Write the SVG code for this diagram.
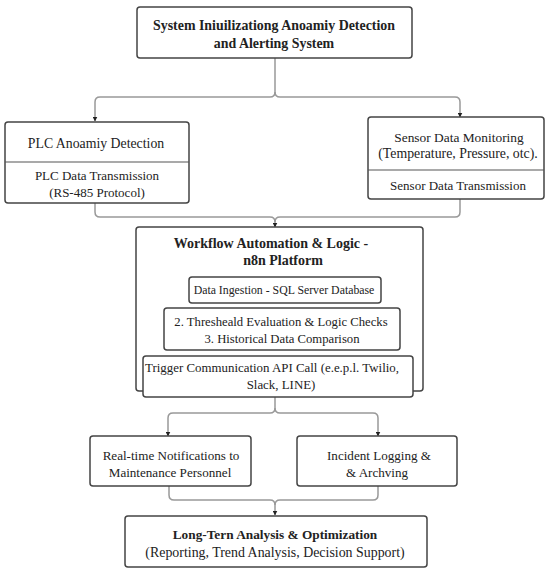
<svg xmlns="http://www.w3.org/2000/svg" width="550" height="574" viewBox="0 0 550 574">
<defs>
<marker id="ah" viewBox="0 0 10 10" refX="9" refY="5" markerWidth="5" markerHeight="5" orient="auto" markerUnits="userSpaceOnUse">
<path d="M0,0 L10,5 L0,10 Z" fill="#222"/>
</marker>
</defs>
<style>
.box{fill:#fff;stroke:#444;stroke-width:1.5}
.div{stroke:#555;stroke-width:1.2}
.con{fill:none;stroke:#999;stroke-width:1.5}
.t{font-family:"Liberation Serif","Times New Roman",serif;fill:#222;text-anchor:middle}
.b{font-weight:bold}
</style>
<rect width="550" height="574" fill="#fff"/>
<g id="connectors">
<path class="con" d="M275,58 V92 Q275,97 270,97 H100 Q95,97 95,102 V121" marker-end="url(#ah)"/>
<path class="con" d="M275,92 Q275,97 280,97 H455 Q460,97 460,102 V117" marker-end="url(#ah)"/>
<path class="con" d="M95,203 V212 Q95,217 100,217 H270 Q275,217 275,222 V227" marker-end="url(#ah)"/>
<path class="con" d="M460,199 V212 Q460,217 455,217 H280 Q275,217 275,222"/>
<path class="con" d="M275,303 V308" marker-end="url(#ah)"/>
<path class="con" d="M275,350 V356" marker-end="url(#ah)"/>
<path class="con" d="M275,397 V408 Q275,413 270,413 H173 Q168,413 168,418 V436" marker-end="url(#ah)"/>
<path class="con" d="M275,408 Q275,413 280,413 H373 Q378,413 378,418 V436" marker-end="url(#ah)"/>
<path class="con" d="M169,486 V495 Q169,500 174,500 H270 Q275,500 275,505 V515" marker-end="url(#ah)"/>
<path class="con" d="M378,486 V495 Q378,500 373,500 H280 Q275,500 275,505"/>
</g>
<g id="start">
<rect class="box" x="137" y="7" width="275" height="51" rx="3"/>
<text class="t b" x="274" y="30" font-size="13.9">System Iniuilizationg Anoamiy Detection</text>
<text class="t b" x="274" y="48" font-size="13.9">and Alerting System</text>
</g>
<g id="plc">
<rect class="box" x="5" y="122" width="184" height="81" rx="3"/>
<line class="div" x1="5" y1="162" x2="189" y2="162"/>
<text class="t" x="96" y="148" font-size="13.8">PLC Anoamiy Detection</text>
<text class="t" x="97" y="180" font-size="13">PLC Data Transmission</text>
<text class="t" x="97" y="197" font-size="13">(RS-485 Protocol)</text>
</g>
<g id="sensor">
<rect class="box" x="368" y="117" width="176" height="82" rx="3"/>
<line class="div" x1="368" y1="170" x2="544" y2="170"/>
<text class="t" x="459" y="142" font-size="13.4">Sensor Data Monitoring</text>
<text class="t" x="458" y="158" font-size="13.8">(Temperature, Pressure, otc).</text>
<text class="t" x="458" y="190" font-size="13">Sensor Data Transmission</text>
</g>
<g id="workflow">
<rect class="box" x="136" y="227" width="287" height="164" rx="3"/>
<text class="t b" x="271" y="248" font-size="14">Workflow Automation &amp; Logic -</text>
<text class="t b" x="283" y="265" font-size="14">n8n Platform</text>
</g>
<g id="ingestion">
<rect class="box" x="189" y="277" width="192" height="26" rx="3"/>
<text class="t" x="284" y="294" font-size="11.8">Data Ingestion - SQL Server Database</text>
</g>
<g id="threshold">
<rect class="box" x="164" y="308" width="236" height="42" rx="3"/>
<text class="t" x="281" y="326" font-size="12.7">2. Thresheald Evaluation &amp; Logic Checks</text>
<text class="t" x="282" y="343" font-size="12.7">3. Historical Data Comparison</text>
</g>
<g id="trigger">
<rect class="box" x="143" y="356" width="270" height="41" rx="3"/>
<text class="t" x="272" y="372" font-size="12.9">Trigger Communication API Call (e.e.p.l. Twilio,</text>
<text class="t" x="281" y="389" font-size="12.9">Slack, LINE)</text>
</g>
<g id="notify">
<rect class="box" x="90" y="436" width="161" height="50" rx="3"/>
<text class="t" x="171" y="460" font-size="13.1">Real-time Notifications to</text>
<text class="t" x="170" y="477" font-size="13.1">Maintenance Personnel</text>
</g>
<g id="logging">
<rect class="box" x="297" y="436" width="160" height="50" rx="3"/>
<text class="t" x="379" y="460" font-size="13.1">Incident Logging &amp;</text>
<text class="t" x="377" y="477" font-size="13.1">&amp; Archving</text>
</g>
<g id="longterm">
<rect class="box" x="125" y="516" width="302" height="51" rx="3"/>
<text class="t b" x="275" y="539" font-size="13.3">Long-Tern Analysis &amp; Optimization</text>
<text class="t" x="275" y="557" font-size="13.9">(Reporting, Trend Analysis, Decision Support)</text>
</g>
</svg>
